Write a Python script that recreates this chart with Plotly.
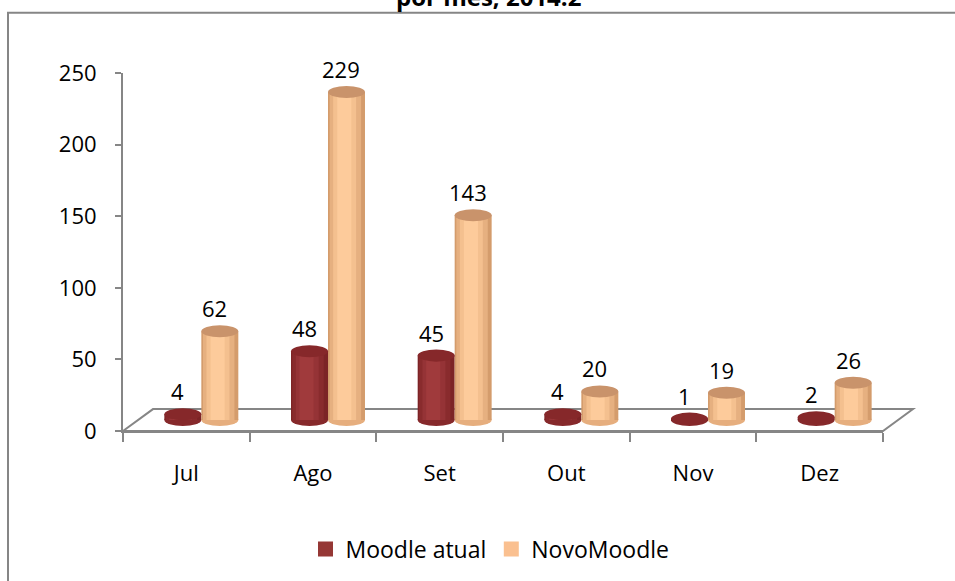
import plotly.graph_objects as go

# ---------------- data ----------------
categories = ["Jul", "Ago", "Set", "Out", "Nov", "Dez"]
moodle_atual = [4, 48, 45, 4, 1, 2]
novo_moodle = [62, 229, 143, 20, 19, 26]
series_names = ["Moodle atual", "NovoMoodle"]
y_tick_values = [0, 50, 100, 150, 200, 250]
title_text = "por mês, 2014.2"

# ---------------- geometry helpers ----------------
W, H = 955, 581
L, R, T, B = 123, 42, 61, 136
PW = W - L - R
PH = H - T - B


def px(x):
    return (x - L) / PW


def py(y):
    return (H - B - y) / PH


FONT = "Open Sans"
GRAY = "#868686"
BAR_W = 0.292      # width of one cylinder in category units
CAP = 4.2          # half-height of cylinder ellipse in value units

series = [
    dict(name=series_names[0], values=moodle_atual, offset=-BAR_W,
         legend="#953735", cap="#86282A", bottom="#86292B",
         shades=[(1.0, 0.5, "#7C2426"), (0.85, 0.46, "#892B2D"),
                 (0.62, 0.44, "#953336"), (0.38, 0.42, "#A03A3C")]),
    dict(name=series_names[1], values=novo_moodle, offset=0.0,
         legend="#FAC090", cap="#C9936B", bottom="#E6AE7E",
         shades=[(1.0, 0.5, "#D49C6C"), (0.85, 0.47, "#E6B080"),
                 (0.62, 0.45, "#F4C08F"), (0.38, 0.44, "#FDCB9B")]),
]

idx = list(range(len(categories)))

fig = go.Figure()

# invisible trace to establish the visible category axis
fig.add_trace(go.Scatter(x=categories, y=[0] * len(categories), mode="markers",
                         marker=dict(opacity=0), showlegend=False,
                         hoverinfo="skip", xaxis="x", yaxis="y"))

shapes = []
annotations = []

for s in series:
    for wf, cf, col in s["shades"]:
        fig.add_trace(go.Bar(
            x=idx, y=s["values"],
            offset=s["offset"] + cf * BAR_W - wf * BAR_W / 2,
            width=wf * BAR_W,
            marker=dict(color=col, line=dict(width=0)),
            showlegend=False, hoverinfo="skip",
            xaxis="x2", yaxis="y2"))
    for i, v in zip(idx, s["values"]):
        x0 = i + s["offset"]
        shapes.append(dict(type="circle", xref="x2", yref="y2", layer="below",
                           x0=x0, x1=x0 + BAR_W, y0=-CAP, y1=CAP,
                           fillcolor=s["bottom"], line=dict(width=0)))
        shapes.append(dict(type="circle", xref="x2", yref="y2", layer="above",
                           x0=x0, x1=x0 + BAR_W, y0=v - CAP, y1=v + CAP,
                           fillcolor=s["cap"], line=dict(width=0)))
        annotations.append(dict(x=x0 + BAR_W / 2, y=v, xref="x2", yref="y2",
                                text=str(v), showarrow=False, yanchor="bottom",
                                yshift=6, xshift=-5,
                                font=dict(family=FONT, size=22, color="#000000")))
    fig.add_trace(go.Scatter(x=[None], y=[None], mode="markers", name=s["name"],
                             marker=dict(symbol="square", size=15, color=s["legend"]),
                             xaxis="x2", yaxis="y2"))

# chart border (partially cropped) and floor
shapes.insert(0, dict(type="rect", xref="paper", yref="paper", layer="below",
                      x0=px(8), x1=px(W + 30), y0=py(12.5), y1=py(H + 30),
                      line=dict(color=GRAY, width=2), fillcolor="rgba(0,0,0,0)"))
floor_path = "M {} {} L {} {} L {} {} L {} {} Z".format(
    px(123), py(432), px(153), py(410), px(913), py(410), px(883), py(432))
shapes.insert(1, dict(type="path", xref="paper", yref="paper", layer="below",
                      path=floor_path, line=dict(color=GRAY, width=2),
                      fillcolor="#FFFFFF"))

annotations.append(dict(x=px(488), y=py(-4), xref="paper", yref="paper",
                        text="<b>" + title_text + "</b>", showarrow=False,
                        xanchor="center", yanchor="middle",
                        font=dict(family=FONT, size=24, color="#000000")))

fig.update_layout(
    width=W, height=H,
    margin=dict(l=L, r=R, t=T, b=B, pad=0),
    paper_bgcolor="#FFFFFF", plot_bgcolor="rgba(0,0,0,0)",
    barmode="overlay",
    font=dict(family=FONT, size=22, color="#000000"),
    showlegend=True,
    legend=dict(orientation="h", x=px(490), y=py(549), xanchor="center",
                yanchor="middle", font=dict(family=FONT, size=23, color="#000000"),
                bgcolor="rgba(0,0,0,0)", itemclick=False, itemdoubleclick=False),
    xaxis=dict(domain=[0, px(883)], anchor="y", type="category",
               categoryarray=categories, range=[-0.5, 5.5], tickson="boundaries",
               ticks="outside", ticklen=9, tickcolor=GRAY, tickwidth=1.5,
               showline=True, linecolor=GRAY, linewidth=2, showgrid=False,
               zeroline=False, ticklabelstandoff=22,
               tickfont=dict(family=FONT, size=22, color="#000000")),
    yaxis=dict(domain=[py(432), py(73)], anchor="x", range=[0, 250],
               tickvals=y_tick_values, ticks="outside", ticklen=6, tickcolor=GRAY,
               tickwidth=1.5, showline=True, linecolor=GRAY, linewidth=2,
               showgrid=False, zeroline=False, ticklabelstandoff=14,
               tickfont=dict(family=FONT, size=22, color="#000000")),
    xaxis2=dict(domain=[px(138), px(898)], anchor="y2", range=[-0.5, 5.5],
                visible=False, fixedrange=True),
    yaxis2=dict(domain=[py(435.36), py(62)], anchor="x2", range=[-10, 250],
                visible=False, fixedrange=True),
    shapes=shapes,
    annotations=annotations,
)

# remove the default page margin so the figure fills the window exactly
fig.write_html("out.html", config={"displayModeBar": False},
               post_script="document.body.style.margin='0';")
